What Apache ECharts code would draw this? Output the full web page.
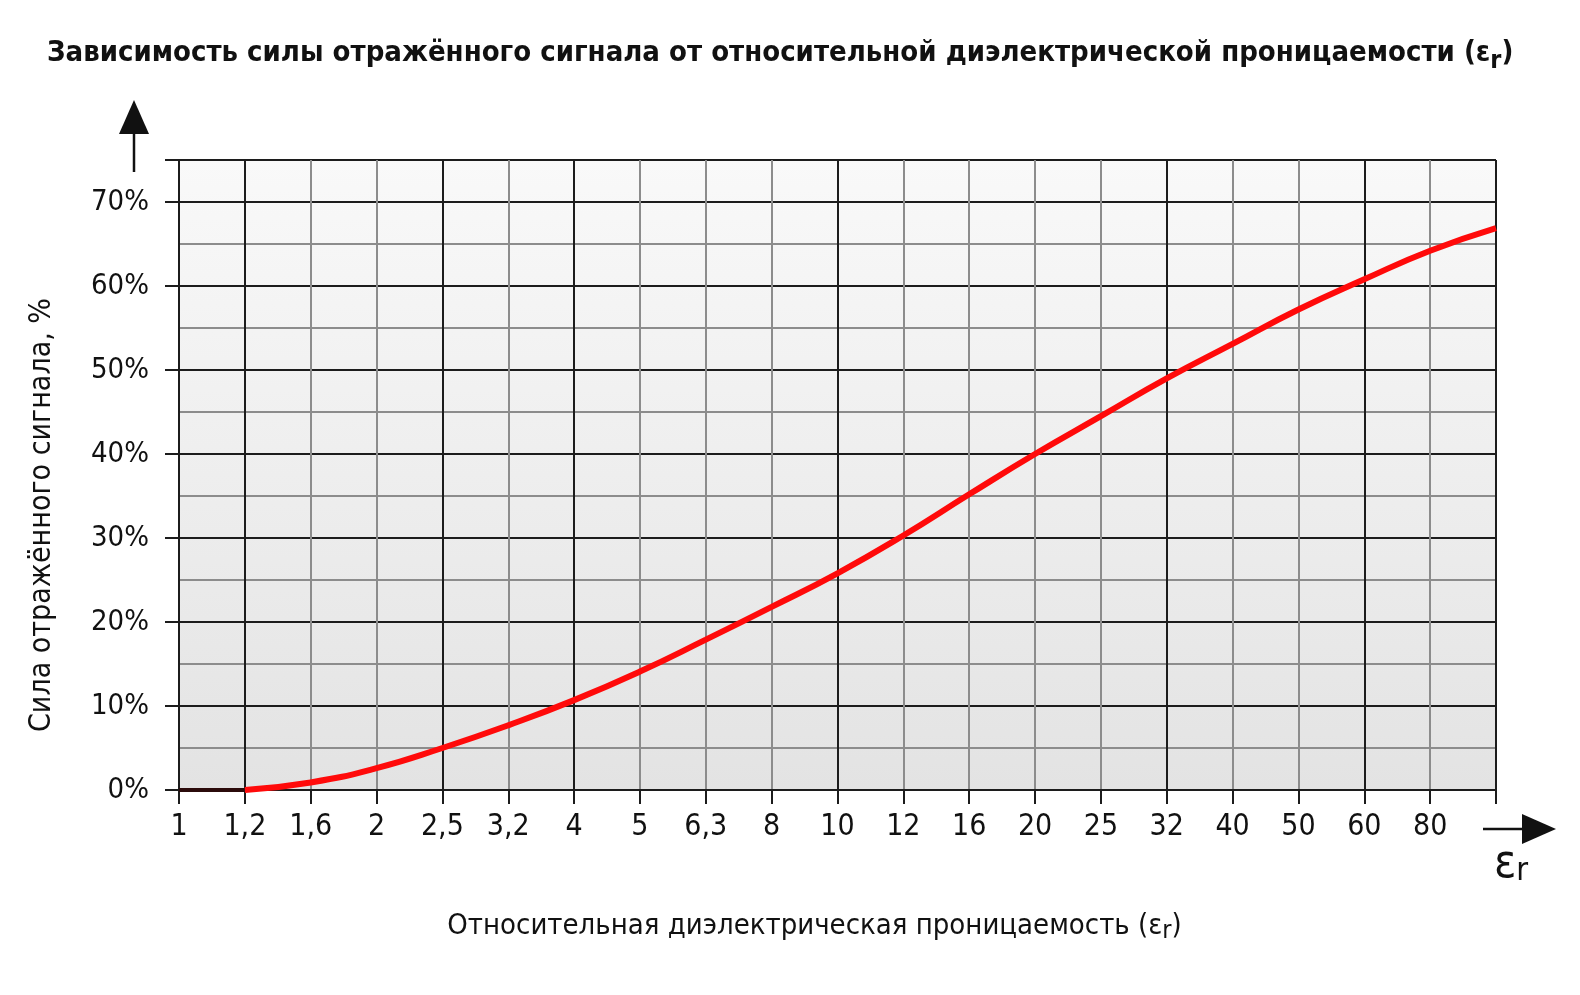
<!DOCTYPE html>
<html>
<head>
<meta charset="utf-8">
<script src="https://cdn.jsdelivr.net/npm/echarts@6/dist/echarts.min.js"></script>
<style>
  html, body { margin: 0; padding: 0; background: #ffffff; }
  #chart { width: 1580px; height: 995px; }
</style>
</head>
<body>
<div id="chart"></div>
<script>
// ---- data ----
const categories = [1, 1.2, 1.6, 2, 2.5, 3.2, 4, 5, 6.3, 8, 10, 12, 16, 20, 25, 32, 40, 50, 60, 80, 100];
const tickLabels = ['1', '1,2', '1,6', '2', '2,5', '3,2', '4', '5', '6,3', '8', '10', '12', '16', '20', '25', '32', '40', '50', '60', '80', ''];
const reflection = [0, 0, 0.9, 2.6, 5.0, 7.7, 10.7, 14.1, 17.9, 21.8, 25.8, 30.3, 35.2, 40.0, 44.5, 49.0, 53.1, 57.2, 60.8, 64.2, 66.9];
const majorX = [1, 1.2, 2.5, 4, 10, 32, 60, 100];
const yMin = 0, yMax = 75, yMinorStep = 5, yMajorStep = 10;

const titleText = 'Зависимость силы отражённого сигнала от относительной диэлектрической проницаемости (ε';
const xName = 'Относительная диэлектрическая проницаемость (ε';
const yName = 'Сила отражённого сигнала, %';

// ---- styles ----
const FONT = "'Liberation Sans Narrow', 'DejaVu Sans Condensed', 'Noto Sans', sans-serif";
const DARK = '#1c1c1c';
const GRAY = '#8c8c8c';

const xLineColors = categories.map(c => majorX.includes(c) ? DARK : GRAY);
const yLineColors = [];
for (let v = yMin; v <= yMax; v += yMinorStep) {
  yLineColors.push((v % yMajorStep === 0 || v === yMax) ? DARK : GRAY);
}

// split the series: flat dark part (1 -> 1.2) and red curve from 1.2
const flatPart = reflection.map((v, i) => i <= 1 ? v : null);
const curvePart = reflection.map((v, i) => i >= 1 ? v : null);

const chart = echarts.init(document.getElementById('chart'), null, { renderer: 'canvas' });

const option = {
  backgroundColor: '#ffffff',
  animation: false,
  title: {
    text: '{t|' + titleText + '}{s|r}{t|)}',
    left: 42,
    top: 27,
    textStyle: {
      rich: {
        t: { fontFamily: FONT, fontWeight: 'bold', fontSize: 29, color: '#111', lineHeight: 42 },
        s: { fontFamily: FONT, fontWeight: 'bold', fontSize: 25, color: '#111', lineHeight: 34, verticalAlign: 'bottom' }
      }
    }
  },
  grid: {
    left: 179,
    right: 84,
    top: 160,
    bottom: 205,
    show: true,
    borderWidth: 0,
    backgroundColor: new echarts.graphic.LinearGradient(0, 0, 0, 1, [
      { offset: 0, color: '#f9f9f9' },
      { offset: 1, color: '#e3e3e3' }
    ])
  },
  xAxis: {
    type: 'category',
    data: categories.map(String),
    boundaryGap: false,
    name: '{t|' + xName + '}{s|r}{t|)}',
    nameLocation: 'middle',
    nameGap: 118,
    nameTextStyle: {
      padding: [0, 46, 0, 0],
      rich: {
        t: { fontFamily: FONT, fontSize: 29, color: '#111', lineHeight: 36 },
        s: { fontFamily: FONT, fontSize: 25, color: '#111', lineHeight: 26, verticalAlign: 'bottom' }
      }
    },
    axisLine: { show: true, lineStyle: { color: DARK, width: 2 } },
    axisTick: { show: true, length: 14, lineStyle: { color: DARK, width: 2 } },
    axisLabel: {
      interval: 0,
      margin: 22,
      fontFamily: FONT,
      fontSize: 30,
      color: '#111',
      formatter: (val, idx) => tickLabels[idx]
    },
    splitLine: { show: true, lineStyle: { color: xLineColors, width: 2 } }
  },
  yAxis: [
    {
      type: 'value',
      min: yMin,
      max: yMax,
      interval: yMinorStep,
      position: 'left',
      axisLine: { show: true, lineStyle: { color: DARK, width: 2 } },
      axisTick: { show: false },
      axisLabel: { show: false },
      splitLine: { show: true, lineStyle: { color: yLineColors, width: 2 } }
    },
    {
      type: 'value',
      min: yMin,
      max: yMax,
      interval: yMajorStep,
      position: 'left',
      name: yName,
      nameLocation: 'middle',
      nameRotate: 90,
      nameGap: 122,
      nameTextStyle: {
        fontFamily: FONT, fontSize: 30, color: '#111',
        padding: [0, 80, 0, 0]
      },
      axisLine: { show: false },
      axisTick: { show: true, length: 14, lineStyle: { color: DARK, width: 2 } },
      axisLabel: {
        margin: 30,
        fontFamily: FONT,
        fontSize: 29,
        color: '#111',
        formatter: v => (v % yMajorStep === 0 ? v + '%' : '')
      },
      splitLine: { show: false }
    }
  ],
  series: [
    {
      type: 'line',
      xAxisIndex: 0,
      yAxisIndex: 0,
      data: flatPart,
      symbol: 'none',
      lineStyle: { color: '#2b0b0b', width: 4 },
      z: 5
    },
    {
      type: 'line',
      xAxisIndex: 0,
      yAxisIndex: 0,
      data: curvePart,
      smooth: true,
      symbol: 'none',
      lineStyle: { color: '#ff0a0a', width: 6 },
      z: 6
    }
  ],
  graphic: [
    { type: 'line', shape: { x1: 134, y1: 172, x2: 134, y2: 128 }, style: { stroke: '#111', lineWidth: 2.5 } },
    { type: 'polygon', shape: { points: [[119, 134], [149, 134], [134, 100]] }, style: { fill: '#111' } },
    { type: 'line', shape: { x1: 1483, y1: 829, x2: 1526, y2: 829 }, style: { stroke: '#111', lineWidth: 2.5 } },
    { type: 'polygon', shape: { points: [[1522, 814], [1522, 844], [1556, 829]] }, style: { fill: '#111' } },
    {
      type: 'text',
      left: 1494,
      top: 842,
      style: {
        text: '{e|ε}{r|r}',
        rich: {
          e: { fontFamily: FONT, fontSize: 46, fill: '#111', lineHeight: 46 },
          r: { fontFamily: FONT, fontSize: 32, fill: '#111', lineHeight: 30, verticalAlign: 'bottom' }
        }
      }
    }
  ]
};

chart.setOption(option);
</script>
</body>
</html>
